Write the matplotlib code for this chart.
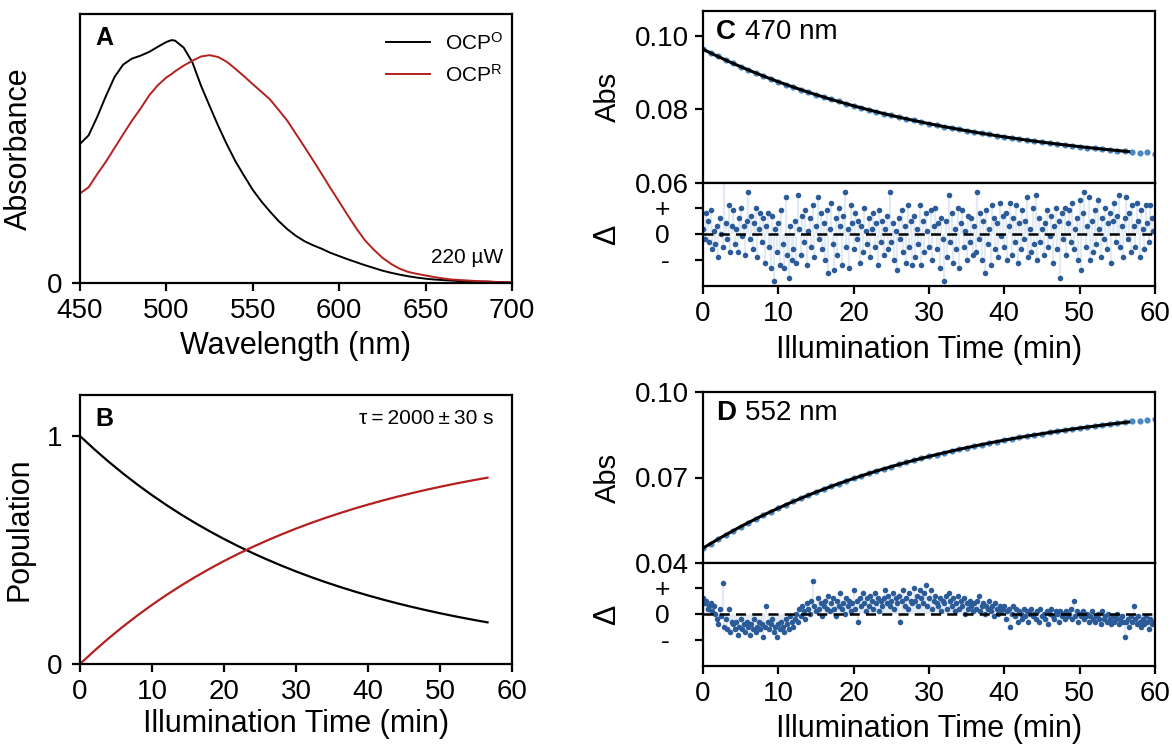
import numpy as np
import matplotlib
matplotlib.use("Agg")
import matplotlib.pyplot as plt

plt.rcParams['font.family'] = ['Liberation Sans', 'DejaVu Sans']
plt.rcParams['mathtext.default'] = 'regular'
plt.rcParams['axes.linewidth'] = 1.6
plt.rcParams['xtick.major.width'] = 1.6
plt.rcParams['ytick.major.width'] = 1.6
plt.rcParams['xtick.major.size'] = 6
plt.rcParams['ytick.major.size'] = 6
plt.rcParams['xtick.major.pad'] = 5
plt.rcParams['ytick.major.pad'] = 5
plt.rcParams['xtick.labelsize'] = 20
plt.rcParams['ytick.labelsize'] = 20
plt.rcParams['axes.labelsize'] = 22

# ---- Panel A: spectra (arbitrary absorbance units) ----
wavelength = [450, 455, 460, 465, 470, 475, 480, 485, 490, 495, 500, 503, 505, 510, 515,
              520, 525, 530, 535, 540, 545, 550, 555, 560, 565, 570, 575, 580, 585, 590,
              595, 600, 605, 610, 615, 620, 625, 630, 635, 640, 645, 650, 655, 660, 665,
              670, 675, 680, 685, 690, 695, 700]
ocp_o = [0.517, 0.549, 0.618, 0.695, 0.766, 0.812, 0.834, 0.845, 0.859, 0.878, 0.896, 0.903,
         0.901, 0.875, 0.821, 0.734, 0.658, 0.584, 0.515, 0.452, 0.398, 0.346, 0.303, 0.265,
         0.230, 0.200, 0.175, 0.155, 0.140, 0.127, 0.112, 0.100, 0.088, 0.077, 0.066, 0.056,
         0.046, 0.038, 0.031, 0.025, 0.020, 0.016, 0.013, 0.011, 0.009, 0.007, 0.006, 0.005,
         0.005, 0.004, 0.003, 0.002]
ocp_r = [0.333, 0.356, 0.405, 0.451, 0.502, 0.553, 0.603, 0.648, 0.697, 0.735, 0.764, 0.777,
         0.787, 0.808, 0.826, 0.842, 0.847, 0.840, 0.822, 0.796, 0.768, 0.739, 0.711, 0.682,
         0.643, 0.603, 0.554, 0.505, 0.455, 0.404, 0.352, 0.302, 0.251, 0.202, 0.158, 0.124,
         0.094, 0.071, 0.053, 0.041, 0.034, 0.028, 0.022, 0.017, 0.013, 0.011, 0.009, 0.007,
         0.006, 0.004, 0.003, 0.002]

# ---- Panel B: populations ----
pop_time = [0, 2, 4, 6, 8, 10, 12, 14, 16, 18, 20, 22, 24, 26, 28, 30, 32, 34, 36, 38,
            40, 42, 44, 46, 48, 50, 52, 54, 56, 56.6]
pop_o = [1.0, 0.9417, 0.8868, 0.8351, 0.7864, 0.7406, 0.6974, 0.6567, 0.6184, 0.5824,
         0.5484, 0.5164, 0.4863, 0.4580, 0.4313, 0.4061, 0.3824, 0.3601, 0.3392, 0.3194,
         0.3008, 0.2832, 0.2667, 0.2512, 0.2365, 0.2227, 0.2097, 0.1975, 0.1860, 0.1827]
pop_r = [0.0, 0.0583, 0.1132, 0.1649, 0.2136, 0.2594, 0.3026, 0.3433, 0.3816, 0.4176,
         0.4516, 0.4836, 0.5137, 0.5420, 0.5687, 0.5939, 0.6176, 0.6399, 0.6608, 0.6806,
         0.6992, 0.7168, 0.7333, 0.7488, 0.7635, 0.7773, 0.7903, 0.8025, 0.8140, 0.8173]

# ---- Panels C/D: kinetic traces (1 min spacing) ----
trace_time = list(range(61))
abs_470 = [0.09642, 0.09537, 0.09444, 0.09344, 0.09256, 0.09162, 0.09080, 0.08991, 0.08914, 0.08830,
           0.08757, 0.08679, 0.08610, 0.08536, 0.08471, 0.08401, 0.08341, 0.08274, 0.08218, 0.08155,
           0.08102, 0.08043, 0.07993, 0.07937, 0.07890, 0.07837, 0.07794, 0.07743, 0.07703, 0.07655,
           0.07617, 0.07572, 0.07536, 0.07494, 0.07460, 0.07420, 0.07389, 0.07350, 0.07321, 0.07285,
           0.07258, 0.07223, 0.07198, 0.07165, 0.07141, 0.07111, 0.07088, 0.07059, 0.07039, 0.07011,
           0.06991, 0.06965, 0.06947, 0.06922, 0.06905, 0.06882, 0.06866, 0.06852, 0.06824, 0.06834,
           0.06795]
abs_552 = [0.04521, 0.04679, 0.04837, 0.04986, 0.05135, 0.05275, 0.05415, 0.05547, 0.05679, 0.05803,
           0.05927, 0.06044, 0.06161, 0.06271, 0.06382, 0.06485, 0.06589, 0.06686, 0.06785, 0.06876,
           0.06969, 0.07055, 0.07142, 0.07223, 0.07305, 0.07381, 0.07459, 0.07530, 0.07604, 0.07671,
           0.07740, 0.07803, 0.07868, 0.07927, 0.07989, 0.08045, 0.08103, 0.08155, 0.08210, 0.08259,
           0.08311, 0.08357, 0.08406, 0.08449, 0.08495, 0.08536, 0.08580, 0.08618, 0.08659, 0.08695,
           0.08734, 0.08768, 0.08804, 0.08836, 0.08871, 0.08900, 0.08933, 0.08965, 0.08990, 0.09020,
           0.09046]

fit_time = list(range(57)) + [56.5]
fit_470 = [0.09640, 0.09539, 0.09441, 0.09346, 0.09254, 0.09164, 0.09078, 0.08993, 0.08912, 0.08832,
           0.08755, 0.08681, 0.08608, 0.08538, 0.08469, 0.08403, 0.08339, 0.08276, 0.08216, 0.08157,
           0.08100, 0.08045, 0.07991, 0.07939, 0.07888, 0.07839, 0.07792, 0.07745, 0.07701, 0.07657,
           0.07615, 0.07574, 0.07534, 0.07496, 0.07458, 0.07422, 0.07387, 0.07352, 0.07319, 0.07287,
           0.07256, 0.07225, 0.07196, 0.07167, 0.07139, 0.07113, 0.07086, 0.07061, 0.07037, 0.07013,
           0.06989, 0.06967, 0.06945, 0.06924, 0.06903, 0.06884, 0.06864, 0.06855]
fit_552 = [0.04520, 0.04680, 0.04836, 0.04987, 0.05134, 0.05276, 0.05414, 0.05548, 0.05678, 0.05804,
           0.05926, 0.06045, 0.06160, 0.06272, 0.06381, 0.06486, 0.06588, 0.06687, 0.06784, 0.06877,
           0.06968, 0.07056, 0.07141, 0.07224, 0.07304, 0.07382, 0.07458, 0.07531, 0.07603, 0.07672,
           0.07739, 0.07804, 0.07867, 0.07928, 0.07988, 0.08046, 0.08102, 0.08156, 0.08209, 0.08260,
           0.08310, 0.08358, 0.08405, 0.08450, 0.08494, 0.08537, 0.08579, 0.08619, 0.08658, 0.08696,
           0.08733, 0.08769, 0.08803, 0.08837, 0.08870, 0.08901, 0.08932, 0.08947]

# residuals (in units of the +/- tick), one every 0.2 min
resid_time = np.round(np.arange(300) * 0.2, 1)
resid_470 = [
    0.2, -0.2, 0.8, 0.5, -0.3, 0.9, -0.6, 0.1, -0.4, 0.3, -0.9, 0.6, 0.0, -0.5, 2.2, 0.4, -0.2, 1.1, -0.7, 0.3,
    0.9, -0.4, 0.2, -0.7, 0.6, 1.0, -0.1, 0.3, -0.8, 0.5, 1.6, -0.2, 0.7, -0.6, 0.4, 1.0, -0.9, 0.2, 0.8, -0.3,
    0.6, -1.1, 0.3, 0.8, -0.5, -1.3, 0.7, -1.8, 0.2, -0.7, 0.4, -1.2, 0.9, -0.4, -1.3, 1.4, -0.8, -1.7, 0.3, -1.0,
    -0.6, 0.5, -1.1, 1.5, 0.2, -0.8, 0.7, -0.3, 0.9, -1.2, 0.1, 0.6, -0.5, 1.1, -0.9, 0.3, 1.4, -0.2, 0.8, -0.6,
    0.4, -1.0, 0.9, -1.5, 0.2, 1.2, -0.4, -1.4, 0.6, -0.8, 1.0, 0.3, -1.2, 0.7, 1.6, -0.5, 0.2, -1.3, 1.1, 0.4,
    -0.6, 0.8, -0.2, 0.5, -1.1, 0.3, -0.7, 1.0, 0.1, -0.4, 0.6, -0.9, 0.2, 0.8, -0.5, 0.4, -1.2, 0.9, -0.3, 0.5,
    -0.8, 0.2, 0.7, -0.6, 1.6, -0.3, 0.4, -1.0, 0.1, -1.4, 0.6, -0.2, 0.9, -0.7, 0.3, -1.1, 1.1, -0.5, 0.5, -1.2,
    0.7, -0.9, 0.2, -0.4, 1.1, -1.2, 0.5, -0.7, 0.8, 0.1, -0.5, 0.9, -1.0, 0.3, 1.0, -0.6, 0.4, -1.3, 0.6, -0.2,
    -1.8, 0.5, -0.9, 1.5, -0.3, 0.8, -1.1, 0.2, -0.6, 1.0, -1.3, 0.4, 0.9, -0.5, 0.1, -1.0, 0.7, -0.3, 0.6, -0.8,
    0.3, -0.7, 1.6, -0.2, 0.8, -1.0, 0.5, -1.5, 0.9, -0.4, 0.2, -1.2, 1.1, 0.6, -0.6, 0.4, -0.9, 1.2, -0.1, 0.7,
    -0.5, 0.8, -1.0, 0.3, 1.2, -0.8, 0.6, -0.3, 1.1, -1.1, 0.4, -0.6, 0.9, -0.2, 0.5, 1.4, -0.9, 0.2, -0.7, 1.0,
    -0.4, 1.5, -1.0, 0.6, -0.3, 0.2, -0.8, 0.4, 0.9, -0.5, -0.1, 0.7, -1.1, 0.3, 1.0, -0.6, 0.5, -1.7, 0.8, -0.2,
    1.0, -0.8, 0.4, 0.9, -0.3, 1.2, -0.6, 0.2, 0.6, -1.0, 1.3, -1.4, 0.8, 1.6, -0.5, 0.3, 1.4, -1.0, 0.5, -0.7,
    0.9, -0.4, 1.3, 0.2, -0.9, 0.6, -0.2, 1.0, -0.6, 0.4, 0.8, -1.1, 0.5, 1.2, -0.3, 0.7, 1.5, -0.5, 0.3, -0.9,
    0.6, 1.4, -0.2, 0.8, -0.7, 1.1, 0.3, -0.5, 1.2, 0.5, -0.9, 0.9, 0.2, -0.6, 1.1, 0.4, -0.3, 1.1, 0.6, 0.1]
resid_552 = [
    0.6, 0.4, 0.5, 0.2, 0.3, 0.4, 0.1, 0.3, 0.0, -0.2, -0.4, 0.2, -0.1, 1.2, -0.5, -0.2, -0.6, 0.2, -0.7, -0.3,
    -0.4, -0.6, -0.3, -0.8, -0.5, -0.2, -0.6, -0.4, -0.7, -0.3, -0.5, -0.8, -0.4, -0.6, -0.2, -0.7, -0.5, -0.3, -0.6, -0.4,
    -0.9, -0.5, 0.3, -0.3, -0.6, -0.4, -0.2, -0.7, -0.5, -0.9, -0.4, -0.6, -0.3, -0.5, -0.7, -0.2, -0.4, -0.6, -0.1, -0.3,
    -0.5, -0.2, 0.0, -0.3, 0.2, -0.1, 0.3, 0.1, -0.2, 0.4, 0.2, 0.0, 0.5, 1.25, 0.3, 0.1, 0.6, 0.2, 0.4, -0.1,
    0.3, 0.5, 0.2, 0.7, 0.1, 0.4, 0.6, 0.2, -0.1, 0.5, 0.3, 0.8, 0.2, 0.4, 0.0, 0.6, 0.3, 0.5, 0.1, 0.4,
    0.9, 0.2, 0.5, -0.3, 0.6, 0.3, 0.8, 0.4, 0.1, 0.6, 0.3, 0.7, 0.5, 0.2, 0.8, 0.4, 0.6, 0.1, 0.5, 0.3,
    0.6, 0.9, 0.4, 0.7, 0.3, 0.5, 0.8, 0.2, 0.6, 0.4, 0.7, -0.3, 0.5, 0.9, 0.3, 0.6, 0.2, 0.8, 0.5, 0.4,
    1.0, 0.5, 0.7, 0.3, 0.9, 0.6, 0.4, 0.8, 1.1, 0.3, 0.6, 0.9, 0.2, 0.5, 0.7, 0.4, 0.3, 0.6, 0.1, 0.5,
    0.4, 0.7, 0.2, 0.8, 0.5, 0.3, 0.6, 0.1, 0.4, 0.7, 0.2, 0.5, 0.3, 0.6, 0.0, 0.4, 0.2, 0.5, 0.3, 0.1,
    0.4, 0.2, 0.5, 0.7, 0.1, 0.3, 0.4, 0.0, 0.3, 0.2, 0.5, 0.1, 0.3, -0.1, 0.4, 0.2, 0.0, 0.3, 0.1, 0.2,
    0.3, -0.2, 0.1, 0.2, -0.5, 0.0, 0.3, -0.1, 0.2, -0.3, 0.1, 0.0, -0.2, 0.2, -0.1, 0.1, -0.3, 0.0, 0.2, -0.1,
    0.0, -0.2, 0.1, -0.3, 0.2, -0.1, 0.0, -0.2, 0.1, -0.4, 0.0, 0.2, -0.1, -0.2, 0.1, 0.0, -0.3, 0.1, -0.1, 0.0,
    -0.2, 0.1, -0.1, 0.0, 0.2, -0.2, 0.5, -0.1, 0.1, -0.3, 0.0, -0.1, 0.1, -0.2, -0.1, 0.0, -0.3, -0.1, 0.1, -0.2,
    -0.3, -0.1, 0.0, -0.2, -0.4, 0.1, -0.2, -0.1, -0.3, 0.0, -0.2, -0.4, -0.1, -0.3, -0.2, 0.0, -0.4, -0.2, -0.1, -0.3,
    -0.9, -0.3, -0.2, -0.5, -0.1, -0.3, 0.3, -0.2, -0.4, -0.1, -0.3, -0.5, -0.2, -0.4, -0.1, -0.3, -0.6, -0.2, -0.4, -0.3]

RED = '#b3201e'
DOT_MAIN = '#4a88c4'
DOT_RES = '#2b5b99'
STEM = '#e2eaf4'

W, H = 1172, 746
fig = plt.figure(figsize=(W / 100, H / 100), dpi=100)


def px_axes(left, top, right, bottom):
    return fig.add_axes([left / W, 1 - bottom / H, (right - left) / W, (bottom - top) / H])


# ---------- A ----------
axA = px_axes(80, 14, 512, 283)
axA.plot(wavelength, ocp_o, color='black', lw=1.4, label='OCP$^{O}$')
axA.plot(wavelength, ocp_r, color=RED, lw=1.4, label='OCP$^{R}$')
axA.set_xlim(450, 700)
axA.set_ylim(0, 1.0)
axA.set_xticks([450, 500, 550, 600, 650, 700])
axA.set_yticks([0])
axA.tick_params(axis='y', pad=7)
axA.set_xlabel('Wavelength (nm)')
axA.xaxis.set_label_coords(0.5, -0.18)
axA.set_ylabel('Absorbance')
axA.yaxis.set_label_coords(-0.106, 0.5)
axA.text(0.035, 0.911, 'A', transform=axA.transAxes, fontsize=18, fontweight='bold', va='center')
axA.text(0.979, 0.093, '220 µW', transform=axA.transAxes, fontsize=15, ha='right', va='center')
axA.legend(loc='upper right', bbox_to_anchor=(0.979, 0.935), frameon=False, fontsize=15,
           handlelength=2.1, handletextpad=0.72, borderpad=0, borderaxespad=0, labelspacing=0.5)

# ---------- B ----------
axB = px_axes(80, 395, 512, 664)
axB.plot(pop_time, pop_o, color='black', lw=1.6)
axB.plot(pop_time, pop_r, color=RED, lw=1.6)
axB.set_xlim(0, 60)
axB.set_ylim(0, 1.18)
axB.set_xticks([0, 10, 20, 30, 40, 50, 60])
axB.set_yticks([0, 1])
axB.tick_params(axis='y', pad=7)
axB.set_xlabel('Illumination Time (min)')
axB.xaxis.set_label_coords(0.5, -0.167)
axB.set_ylabel('Population')
axB.yaxis.set_label_coords(-0.106, 0.5)
axB.text(0.035, 0.911, 'B', transform=axB.transAxes, fontsize=18, fontweight='bold', va='center')
axB.text(0.958, 0.914, 'τ\u2009=\u20092000\u2009±\u200930 s', transform=axB.transAxes,
         fontsize=15, ha='right', va='center')


# ---------- C / D ----------
def kinetic(top, mid, bottom, data, fit, resid, ylim, yticks, letter, label, xlab_y):
    ax = px_axes(703, top, 1155, mid)
    ax.scatter(trace_time, data, s=20, color=DOT_MAIN, lw=0, zorder=2)
    ax.plot(fit_time, fit, color='black', lw=2.2, zorder=3)
    ax.set_xlim(0, 60)
    ax.set_ylim(*ylim)
    ax.set_yticks(yticks)
    ax.set_yticklabels(['%.2f' % v for v in yticks])
    ax.tick_params(axis='y', pad=4)
    ax.set_xticks([])
    ax.set_ylabel('Abs', fontsize=21)
    ax.yaxis.set_label_coords(-0.179, 0.5)
    ax.text(0.029, 0.878, letter, transform=ax.transAxes, fontsize=20, fontweight='bold', va='center')
    ax.text(0.093, 0.878, label, transform=ax.transAxes, fontsize=20, va='center')

    axr = px_axes(703, mid, 1155, bottom)
    axr.vlines(resid_time, 0, resid, color=STEM, lw=1.6, zorder=1)
    axr.scatter(resid_time, resid, s=16, color=DOT_RES, lw=0, zorder=2)
    axr.axhline(0, color='black', lw=1.8, ls=(0, (4, 2.5)), zorder=3)
    axr.set_xlim(0, 60)
    axr.set_ylim(-2.0, 1.95)
    axr.set_yticks([-1, 0, 1])
    axr.set_yticklabels(['-', '0', '+'])
    axr.tick_params(axis='y', pad=18, labelsize=19)
    axr.set_xticks([0, 10, 20, 30, 40, 50, 60])
    axr.set_xlabel('Illumination Time (min)')
    axr.xaxis.set_label_coords(0.5, xlab_y)
    axr.set_ylabel('Δ', fontsize=22)
    axr.yaxis.set_label_coords(-0.179, 0.5)
    return ax, axr


kinetic(11, 183, 286, abs_470, fit_470, resid_470, (0.06, 0.1068), [0.06, 0.08, 0.10],
        'C', '470 nm', -0.476)
kinetic(392, 563, 666, abs_552, fit_552, resid_552, (0.04, 0.10), [0.04, 0.07, 0.10],
        'D', '552 nm', -0.467)

fig.savefig('out.png', dpi=100)
